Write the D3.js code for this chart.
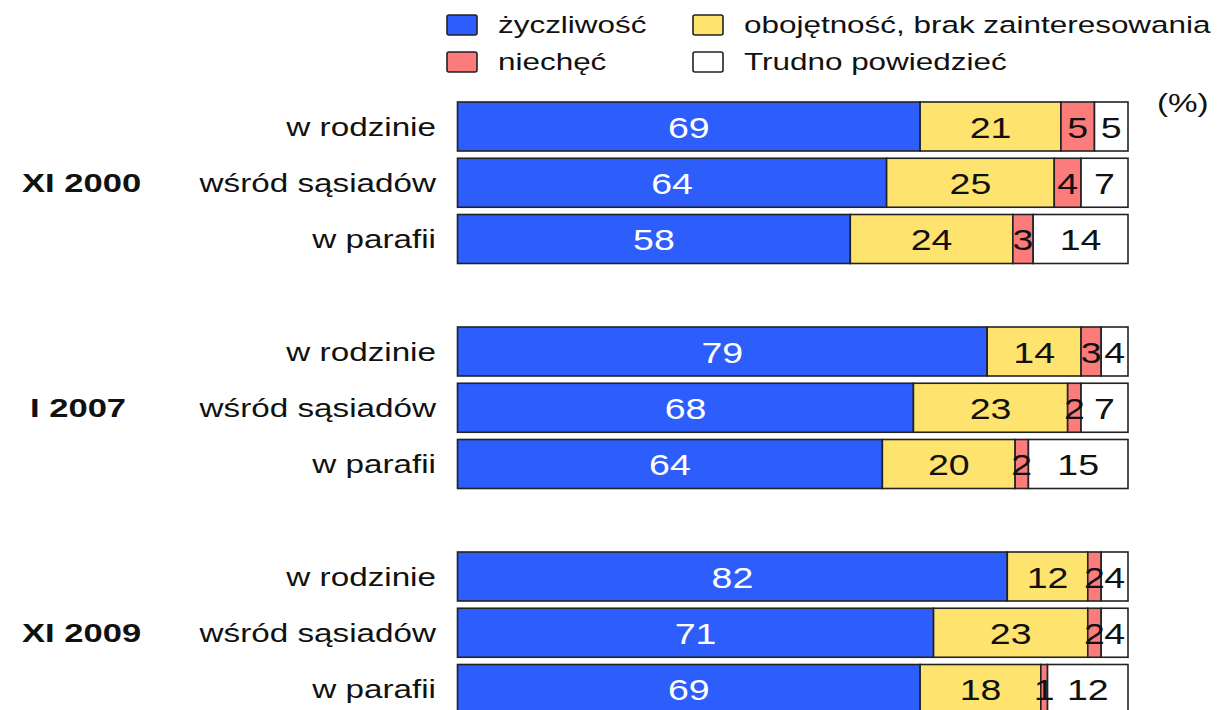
<!DOCTYPE html>
<html><head><meta charset="utf-8">
<script src="https://cdn.jsdelivr.net/npm/d3@7"></script>
<style>body{margin:0;background:#fff}svg{display:block}text{font-family:"Liberation Sans",Arial,sans-serif}</style>
</head><body>
<script>
const waves = ["XI 2000", "I 2007", "XI 2009"];
const places = ["w rodzinie", "wśród sąsiadów", "w parafii"];
const seriesNames = ["życzliwość", "obojętność, brak zainteresowania", "niechęć", "Trudno powiedzieć"];
const zyczliwosc = [69, 64, 58, 79, 68, 64, 82, 71, 69];
const obojetnosc = [21, 25, 24, 14, 23, 20, 12, 23, 18];
const niechec    = [5, 4, 3, 3, 2, 2, 2, 2, 1];
const trudno     = [5, 7, 14, 4, 7, 15, 4, 4, 12];
const colors = ["#2d5dfb", "#fee46f", "#fc7b7b", "#ffffff"];
const labelColors = ["#ffffff", "#111", "#111", "#111"];

const W = 1218, H = 710, SX = 1.33;
const svg = d3.select("body").append("svg").attr("width", W).attr("height", H);

const rows = [];
waves.forEach((w, wi) => {
  places.forEach((p, pi) => {
    const i = wi * 3 + pi;
    rows.push({key: w + "|" + p, wave: w, place: p, pi,
      vals: [zyczliwosc[i], obojetnosc[i], niechec[i], trudno[i]]});
  });
  if (wi < waves.length - 1) rows.push({key: "gap" + wi, gap: true});
});

const step = 56.25, bh = 49;
const y = d3.scaleBand().domain(rows.map(r => r.key))
  .range([102, 102 + rows.length * step - (step - bh)])
  .paddingInner((step - bh) / step).paddingOuter(0);
const x = d3.scaleLinear().domain([0, 1]).range([457.5, 1128]);

const dataRows = rows.filter(r => !r.gap);
dataRows.forEach(r => {
  const tot = d3.sum(r.vals);
  let c = 0;
  r.segs = r.vals.map((v, k) => { const s = {k, v, x0: c / tot, x1: (c + v) / tot}; c += v; return s; });
});

const g = svg.append("g");
const rg = g.selectAll("g.row").data(dataRows).join("g").attr("class", "row")
  .attr("transform", d => `translate(0,${y(d.key)})`);

rg.selectAll("rect").data(d => d.segs).join("rect")
  .attr("x", s => x(s.x0)).attr("width", s => x(s.x1) - x(s.x0))
  .attr("y", 0).attr("height", y.bandwidth())
  .attr("fill", s => colors[s.k]).attr("stroke", "#222").attr("stroke-width", 1.6);

rg.selectAll("g.lab").data(d => d.segs).join("g").attr("class", "lab")
  .attr("transform", s => `translate(${(x(s.x0) + x(s.x1)) / 2},${y.bandwidth() / 2 + 11}) scale(1.25,1)`)
  .append("text").attr("text-anchor", "middle").attr("font-size", 30)
  .attr("fill", s => labelColors[s.k]).text(s => s.v);

rg.append("g").attr("transform", `translate(436,${y.bandwidth() / 2 + 9}) scale(${SX},1)`)
  .append("text").attr("text-anchor", "end").attr("font-size", 25).attr("fill", "#111")
  .text(d => d.place);

dataRows.filter(r => r.pi === 1).forEach(r => {
  svg.append("g").attr("transform", `translate(${r.wave === "I 2007" ? 30 : 22},${y(r.key) + y.bandwidth() / 2 + 9}) scale(${SX},1)`)
    .append("text").attr("font-size", 26).attr("font-weight", "bold").attr("fill", "#111").text(r.wave);
});

const legPos = [[447, 25], [693, 25], [447, 62], [693, 62]];
seriesNames.forEach((n, k) => {
  const [lx, ly] = legPos[k];
  svg.append("rect").attr("x", lx).attr("y", ly - 10).attr("width", 30).attr("height", 20)
    .attr("rx", 2).attr("fill", colors[k]).attr("stroke", "#222").attr("stroke-width", 1.6);
  svg.append("g").attr("transform", `translate(${lx + 51},${ly + 8}) scale(1.35,1)`)
    .append("text").attr("font-size", 23.3).attr("fill", "#111").text(n);
});

svg.append("g").attr("transform", `translate(1157,112) scale(${SX},1)`)
  .append("text").attr("font-size", 25).attr("fill", "#111").text("(%)");
</script>
</body></html>
